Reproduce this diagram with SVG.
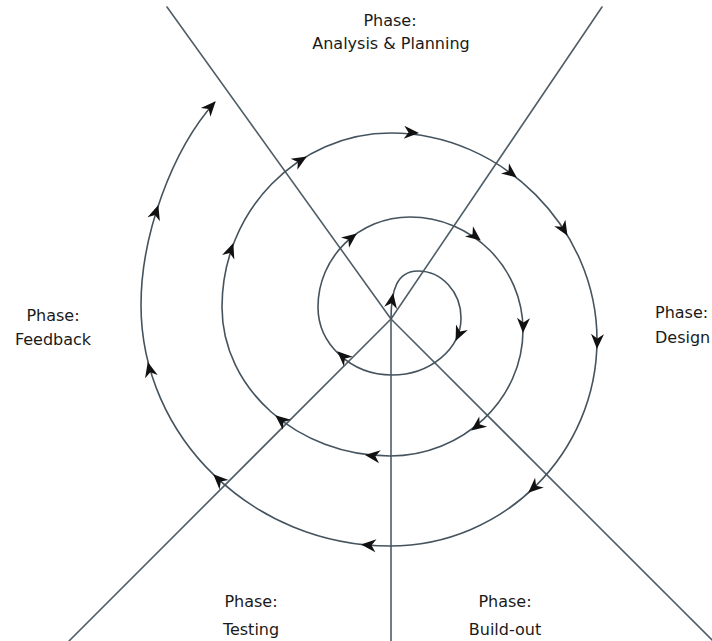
<svg xmlns="http://www.w3.org/2000/svg" xmlns:xlink="http://www.w3.org/1999/xlink" width="712" height="641" viewBox="0 0 712 641">
<style>
.ax{stroke:#4f5e68;stroke-width:1.6;fill:none;stroke-linecap:round}
.sp{stroke:#44535d;stroke-width:1.6;fill:none}
.lbl{font-family:"DejaVu Sans","Liberation Sans",sans-serif;font-size:16px;fill:#1a1a1a;text-anchor:middle}
.ah{fill:#111}
</style>
<defs>
<path id="ah" class="ah" d="M1,0 L-14,-6.5 L-9.5,0 L-14,6.5 Z"/>
</defs>
<rect width="712" height="641" fill="#fff"/>
<g id="connectors">
<g id="axes">
<line class="ax" x1="391" y1="319" x2="167" y2="7"/>
<line class="ax" x1="391" y1="319" x2="602" y2="7"/>
<line class="ax" x1="391" y1="319" x2="712" y2="640"/>
<line class="ax" x1="391" y1="319" x2="69" y2="641"/>
<line class="ax" x1="391" y1="319" x2="391" y2="641"/>
</g>
<path id="spiral" class="sp" d="M391,319 C391,290 397,271 418,271 C441.6,271 461,292 461,318 C461,349 430,375 392,375 C351,375 318,344 318,307 C318,257.5 359,217 410,217 C472,217 523,268 523,330 C523,399 463,456 390,456 C298,456 222,389 222,307 C222,211 298,133 391,133 C501.7,133 597,228.2 597,340 C597,453 504,546 390,546 C253,546 141,437.5 141,305 C141,235 172,150 215,102"/>
<g id="arrowheads">
<use xlink:href="#ah" transform="translate(393,294) rotate(-80)"/>
<use xlink:href="#ah" transform="translate(456,340) rotate(115)"/>
<use xlink:href="#ah" transform="translate(338,352) rotate(-137)"/>
<use xlink:href="#ah" transform="translate(356,234) rotate(-38)"/>
<use xlink:href="#ah" transform="translate(480,240) rotate(38)"/>
<use xlink:href="#ah" transform="translate(523,332) rotate(92)"/>
<use xlink:href="#ah" transform="translate(472,430) rotate(143)"/>
<use xlink:href="#ah" transform="translate(366,455) rotate(187)"/>
<use xlink:href="#ah" transform="translate(276,416) rotate(-141)"/>
<use xlink:href="#ah" transform="translate(233,244) rotate(-70)"/>
<use xlink:href="#ah" transform="translate(306,157) rotate(-31)"/>
<use xlink:href="#ah" transform="translate(418,133) rotate(3)"/>
<use xlink:href="#ah" transform="translate(516,177) rotate(38)"/>
<use xlink:href="#ah" transform="translate(567,235) rotate(59)"/>
<use xlink:href="#ah" transform="translate(597,348) rotate(92)"/>
<use xlink:href="#ah" transform="translate(529,492) rotate(138)"/>
<use xlink:href="#ah" transform="translate(362,544.5) rotate(185)"/>
<use xlink:href="#ah" transform="translate(214,475) rotate(-136)"/>
<use xlink:href="#ah" transform="translate(148,363) rotate(-104)"/>
<use xlink:href="#ah" transform="translate(158,206) rotate(-72)"/>
<use xlink:href="#ah" transform="translate(215,102) rotate(-48)"/>
</g>
</g>
<g id="phase-analysis">
<text class="lbl" x="390" y="26">Phase:</text>
<text class="lbl" x="391" y="49">Analysis &amp; Planning</text>
</g>
<g id="phase-design">
<text class="lbl" x="655" y="318" style="text-anchor:start">Phase:</text>
<text class="lbl" x="655" y="343" style="text-anchor:start">Design</text>
</g>
<g id="phase-buildout">
<text class="lbl" x="505" y="607">Phase:</text>
<text class="lbl" x="505" y="635">Build-out</text>
</g>
<g id="phase-testing">
<text class="lbl" x="251" y="607">Phase:</text>
<text class="lbl" x="251" y="635">Testing</text>
</g>
<g id="phase-feedback">
<text class="lbl" x="53" y="321">Phase:</text>
<text class="lbl" x="53" y="345">Feedback</text>
</g>
</svg>
